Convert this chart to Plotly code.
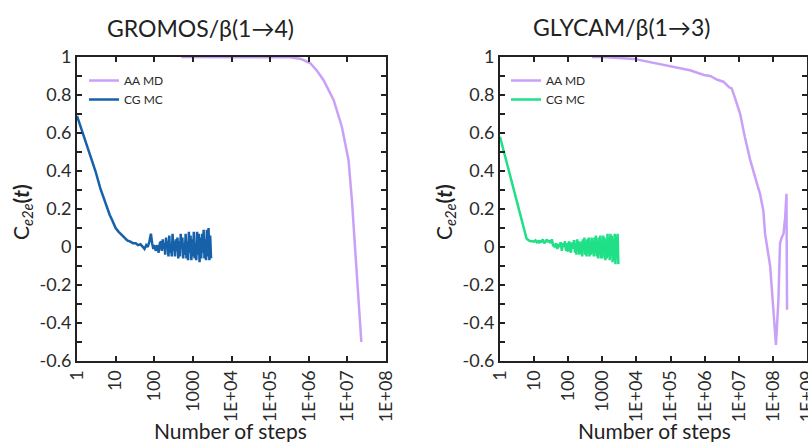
import plotly.graph_objects as go

# ---------------- data ----------------
titles = ["GROMOS/β(1→4)", "GLYCAM/β(1→3)"]
series_names = ["AA MD", "CG MC"]

x_tickvals_left = [1, 10, 100, 1000, 1e4, 1e5, 1e6, 1e7, 1e8]
x_ticktext_left = ["1", "10", "100", "1000", "1E+04", "1E+05", "1E+06", "1E+07", "1E+08"]
x_tickvals_right = [1, 10, 100, 1000, 1e4, 1e5, 1e6, 1e7, 1e8, 1e9]
x_ticktext_right = ["1", "10", "100", "1000", "1E+04", "1E+05", "1E+06", "1E+07", "1E+08", "1E+09"]
y_tickvals = [1, 0.8, 0.6, 0.4, 0.2, 0, -0.2, -0.4, -0.6]
y_ticktext = ["1", "0.8", "0.6", "0.4", "0.2", "0", "-0.2", "-0.4", "-0.6"]

# GROMOS / beta(1->4)
gromos_aa_x = [500, 1e3, 1e4, 1e5, 3.3e5, 6.3e5, 1.1e6, 1.6e6, 2.4e6, 4.4e6, 7.2e6,
               1.07e7, 1.2e7, 1.32e7, 1.6e7, 2e7, 2.3e7]
gromos_aa_y = [1.0, 1.0, 1.0, 1.0, 0.999, 0.99, 0.967, 0.93, 0.879, 0.774, 0.633,
               0.458, 0.35, 0.24, -0.02, -0.32, -0.50]

gromos_cg_x = [1, 2, 3, 4, 5, 6, 7, 8, 9, 10, 12, 14, 17, 20, 24, 28, 33, 38, 44, 50,
               56, 62, 68, 75, 82, 88, 95, 100, 110, 120, 130, 140,
               150, 158, 166, 174, 183, 192, 202, 212, 222, 233, 245, 257, 270, 284,
               298, 313, 328, 345, 362, 380, 399, 419, 440, 462, 485, 509, 535, 561,
               589, 619, 650, 682, 716, 752, 790, 829, 871, 914, 960, 1008, 1058, 1111,
               1167, 1225, 1287, 1351, 1418, 1489, 1564, 1642, 1724, 1810, 1901, 1996,
               2096, 2200, 2310, 2426, 2547, 2675, 2808, 2950]
gromos_cg_y = [0.69, 0.51, 0.40, 0.31, 0.25, 0.21, 0.17, 0.145, 0.12, 0.10, 0.08, 0.065,
               0.05, 0.035, 0.028, 0.02, 0.02, 0.01, 0.015, 0.0,
               -0.01, 0.01, 0.0, 0.03, 0.07, 0.02, -0.01, 0.01, -0.02, 0.01, -0.03, 0.02,
               0.03, -0.02, 0.04, -0.01, 0.02, -0.04, 0.05, 0.0, 0.03, -0.05, 0.06, -0.03,
               0.01, -0.05, 0.07, -0.02, 0.03, -0.05, 0.04, -0.02, 0.05, -0.06, 0.03, -0.05,
               0.07, -0.01, 0.05, -0.06, 0.02, -0.04, 0.07, -0.06, 0.03, -0.07, 0.08, -0.03,
               0.06, -0.07, 0.04, -0.05, 0.08, -0.06, 0.02, -0.07, 0.08, -0.04, 0.07, -0.08,
               0.05, -0.06, 0.07, -0.03, 0.09, -0.06, 0.04, -0.07, 0.09, -0.05, 0.10, -0.07,
               0.06, -0.06]

# GLYCAM / beta(1->3)
glycam_aa_x = [500, 1e3, 8.5e3, 3.2e4, 2.0e5, 3.7e5, 9.5e5, 1.45e6, 2.35e6, 3.55e6, 5.25e6,
               6.2e6, 7.9e6, 1.1e7, 1.5e7, 2.15e7, 3.4e7, 4.2e7, 5.25e7, 5.9e7, 8.3e7,
               1.15e8, 1.23e8, 1.45e8, 1.62e8, 1.82e8, 2.05e8, 2.3e8, 2.5e8, 2.6e8]
glycam_aa_y = [1.0, 1.0, 0.99, 0.97, 0.94, 0.93, 0.905, 0.90, 0.88, 0.87, 0.84,
               0.835, 0.78, 0.70, 0.58, 0.46, 0.335, 0.28, 0.19, 0.07, -0.10,
               -0.49, -0.515, -0.28, 0.02, 0.05, 0.07, 0.16, 0.28, -0.33]

glycam_cg_x = [1, 2, 3, 4, 5, 6, 7, 8, 9, 10, 11, 12, 13, 14, 15, 16, 18, 20, 22, 24,
               26, 28, 30, 33, 36, 40, 44, 48, 52, 56, 60, 65, 70, 75, 80, 86, 92, 98,
               105, 112, 120, 128, 137, 146,
               150, 158, 166, 174, 183, 192, 202, 212, 222, 233, 245, 257, 270, 284,
               298, 313, 328, 345, 362, 380, 399, 419, 440, 462, 485, 509, 535, 561,
               589, 619, 650, 682, 716, 752, 790, 829, 871, 914, 960, 1008, 1058, 1111,
               1167, 1225, 1287, 1351, 1418, 1489, 1564, 1642, 1724, 1810, 1901, 1996,
               2096, 2200, 2310, 2426, 2547, 2675, 2808, 2950]
glycam_cg_y = [0.58, 0.37, 0.25, 0.165, 0.10, 0.045, 0.035, 0.03, 0.03, 0.028, 0.035, 0.025,
               0.03, 0.02, 0.035, 0.025, 0.04, 0.02, 0.03, 0.04,
               0.025, 0.035, 0.02, 0.04, 0.01, 0.0, 0.02, -0.01, 0.015, 0.0, 0.025, -0.02,
               0.02, 0.0, 0.03, -0.02, 0.02, -0.025, 0.03, 0.0, -0.03, 0.025, -0.01, 0.03,
               0.03, -0.03, 0.01, -0.04, 0.04, -0.01, 0.03, -0.04, 0.02, -0.03, 0.03, -0.05,
               0.04, -0.02, 0.05, -0.04, 0.01, -0.05, 0.04, -0.02, 0.05, -0.05, 0.02, -0.04,
               0.05, -0.03, 0.03, -0.05, 0.05, -0.02, 0.06, -0.05, 0.02, -0.06, 0.05, -0.04,
               0.06, -0.06, 0.03, -0.06, 0.06, -0.04, 0.05, -0.07, 0.03, -0.06, 0.07, -0.05,
               0.05, -0.07, 0.07, -0.04, 0.06, -0.08, 0.04, -0.07, 0.07, -0.09, 0.06, -0.06,
               0.07, -0.09]

colors = {"aa": "#c9a0f8", "gromos_cg": "#1661aa", "glycam_cg": "#1fe087"}

# ---------------- figure ----------------
W, H = 808, 442
FONT = "Lato"
TXT = "#2b2b2b"

fig = go.Figure()

fig.add_trace(go.Scatter(x=gromos_aa_x, y=gromos_aa_y, mode="lines", name=series_names[0],
                         line=dict(color=colors["aa"], width=2.5), xaxis="x", yaxis="y",
                         legend="legend"))
fig.add_trace(go.Scatter(x=gromos_cg_x, y=gromos_cg_y, mode="lines", name=series_names[1],
                         line=dict(color=colors["gromos_cg"], width=2.5), xaxis="x", yaxis="y",
                         legend="legend"))
fig.add_trace(go.Scatter(x=glycam_aa_x, y=glycam_aa_y, mode="lines", name=series_names[0],
                         line=dict(color=colors["aa"], width=2.5), xaxis="x2", yaxis="y2",
                         legend="legend2"))
fig.add_trace(go.Scatter(x=glycam_cg_x, y=glycam_cg_y, mode="lines", name=series_names[1],
                         line=dict(color=colors["glycam_cg"], width=2.5), xaxis="x2", yaxis="y2",
                         legend="legend2"))

ydom = [1 - 361 / H, 1 - 57 / H]

common = dict(showline=True, linecolor="#222", linewidth=2, mirror="ticks", ticks="inside",
              ticklen=5, tickwidth=1.5, tickcolor="#222", showgrid=False, zeroline=False,
              automargin=False, ticklabeloverflow="allow",
              tickfont=dict(family=FONT, size=18, color=TXT))

yminor = dict(dtick=0.1, ticks="inside", ticklen=5, tickwidth=1.5, tickcolor="#222", showgrid=False)

fig.update_layout(
    width=W, height=H, autosize=False,
    margin=dict(l=0, r=0, t=0, b=0, autoexpand=False),
    paper_bgcolor="white", plot_bgcolor="white",
    font=dict(family=FONT, color=TXT),
    xaxis=dict(type="log", range=[0, 8], tickmode="array", tickvals=x_tickvals_left,
               ticktext=x_ticktext_left, tickangle=-90, domain=[77 / W, 386 / W], anchor="y",
               **common),
    yaxis=dict(range=[-0.6, 1], tickmode="array", tickvals=y_tickvals, ticktext=y_ticktext,
               domain=ydom, anchor="x", minor=yminor, **common),
    xaxis2=dict(type="log", range=[0, 9], tickmode="array", tickvals=x_tickvals_right,
                ticktext=x_ticktext_right, tickangle=-90, domain=[500 / W, 807 / W], anchor="y2",
                **common),
    yaxis2=dict(range=[-0.6, 1], tickmode="array", tickvals=y_tickvals, ticktext=y_ticktext,
                domain=ydom, anchor="x2", minor=yminor, **common),
    legend=dict(x=84 / W, y=1 - 66 / H, xanchor="left", yanchor="top", bgcolor="rgba(0,0,0,0)",
                font=dict(family=FONT, size=12, color=TXT), itemwidth=30, tracegroupgap=0),
    legend2=dict(x=506 / W, y=1 - 66 / H, xanchor="left", yanchor="top", bgcolor="rgba(0,0,0,0)",
                 font=dict(family=FONT, size=12, color=TXT), itemwidth=30, tracegroupgap=0),
    showlegend=True,
)

ylabel = "C<sub><i>e2e</i></sub><b>(<i>t</i>)</b>"
annotations = [
    dict(text=titles[0], x=200 / W, y=1 - 28 / H, xref="paper", yref="paper", showarrow=False,
         font=dict(family=FONT, size=23, color="#222"), xanchor="center", yanchor="middle"),
    dict(text=titles[1], x=621 / W, y=1 - 27 / H, xref="paper", yref="paper", showarrow=False,
         font=dict(family=FONT, size=23, color="#222"), xanchor="center", yanchor="middle"),
    dict(text="Number of steps", x=231 / W, y=1 - 430 / H, xref="paper", yref="paper",
         showarrow=False, font=dict(family=FONT, size=21, color="#222"),
         xanchor="center", yanchor="middle"),
    dict(text="Number of steps", x=654 / W, y=1 - 430 / H, xref="paper", yref="paper",
         showarrow=False, font=dict(family=FONT, size=21, color="#222"),
         xanchor="center", yanchor="middle"),
    dict(text=ylabel, x=22 / W, y=1 - 212 / H, xref="paper", yref="paper", showarrow=False,
         textangle=-90, font=dict(family=FONT, size=21, color="#222"),
         xanchor="center", yanchor="middle"),
    dict(text=ylabel, x=445 / W, y=1 - 212 / H, xref="paper", yref="paper", showarrow=False,
         textangle=-90, font=dict(family=FONT, size=21, color="#222"),
         xanchor="center", yanchor="middle"),
]
fig.update_layout(annotations=annotations)

fig.write_html("out.html", config={"displayModeBar": False},
               post_script="document.body.style.margin='0px';document.body.style.overflow='hidden';")
